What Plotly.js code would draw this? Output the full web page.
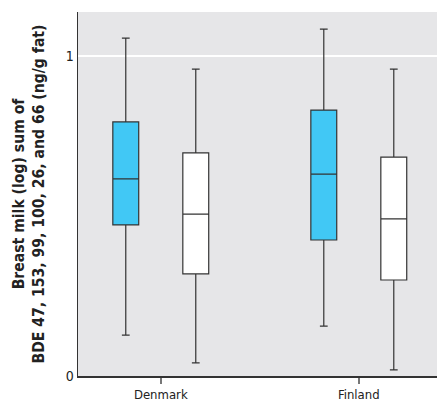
<!DOCTYPE html>
<html><head><meta charset="utf-8">
<script src="https://cdn.plot.ly/plotly-3.0.1.min.js"></script>
<style>body{margin:0;background:#fff}#c{width:438px;height:404px}</style>
</head><body><div id="c"></div>
<script>
var countries = ["Denmark", "Finland"];
// blue series
var blueUpper = [1.056, 1.084];
var blueQ3 = [0.794, 0.831];
var blueMedian = [0.616, 0.631];
var blueQ1 = [0.472, 0.425];
var blueLower = [0.128, 0.156];
// white series
var whiteUpper = [0.959, 0.959];
var whiteQ3 = [0.697, 0.684];
var whiteMedian = [0.506, 0.491];
var whiteQ1 = [0.319, 0.300];
var whiteLower = [0.041, 0.019];
var yTickVals = [0, 1];
var yTickText = ["0", "1"];

var font = "'DejaVu Sans Condensed', 'Liberation Sans Narrow', sans-serif";

function box(name, up, q3, med, q1, lo, fill){
  return {
    type: "box", name: name, x: countries,
    q1: q1, median: med, q3: q3, lowerfence: lo, upperfence: up,
    fillcolor: fill, line: {color: "#333333", width: 1.2},
    whiskerwidth: 0.3, boxpoints: false, hoverinfo: "skip"
  };
}

var data = [
  box("blue", blueUpper, blueQ3, blueMedian, blueQ1, blueLower, "#41c8f5"),
  box("white", whiteUpper, whiteQ3, whiteMedian, whiteQ1, whiteLower, "#ffffff")
];

var layout = {
  width: 438, height: 404,
  margin: {l: 78, r: 1, t: 12, b: 28},
  paper_bgcolor: "#ffffff", plot_bgcolor: "#e6e6e8",
  showlegend: false,
  boxmode: "group", boxgap: 0.293, boxgroupgap: 0.63,
  font: {family: font, size: 13, color: "#222"},
  xaxis: {
    type: "category", range: [-0.418, 1.395],
    showline: true, linecolor: "#333", linewidth: 1.5,
    ticks: "outside", ticklen: 6, tickcolor: "#777", tickwidth: 1.5,
    showgrid: false, zeroline: false,
    tickfont: {family: font, size: 13, color: "#222"}
  },
  yaxis: {
    range: [0, 1.1375], tickvals: yTickVals, ticktext: yTickText,
    showline: true, linecolor: "#333", linewidth: 1.5,
    ticks: "", showgrid: true, gridcolor: "#ffffff", gridwidth: 1.5,
    zeroline: false,
    tickfont: {family: font, size: 14, color: "#222"},
    title: {text: "<b>Breast milk (log) sum of<br>BDE 47, 153, 99, 100, 26, and 66 (ng/g fat)</b>",
            font: {family: font, size: 15.6, color: "#222"}, standoff: 17}
  }
};
Plotly.newPlot("c", data, layout, {displayModeBar: false, staticPlot: true});
</script></body></html>
